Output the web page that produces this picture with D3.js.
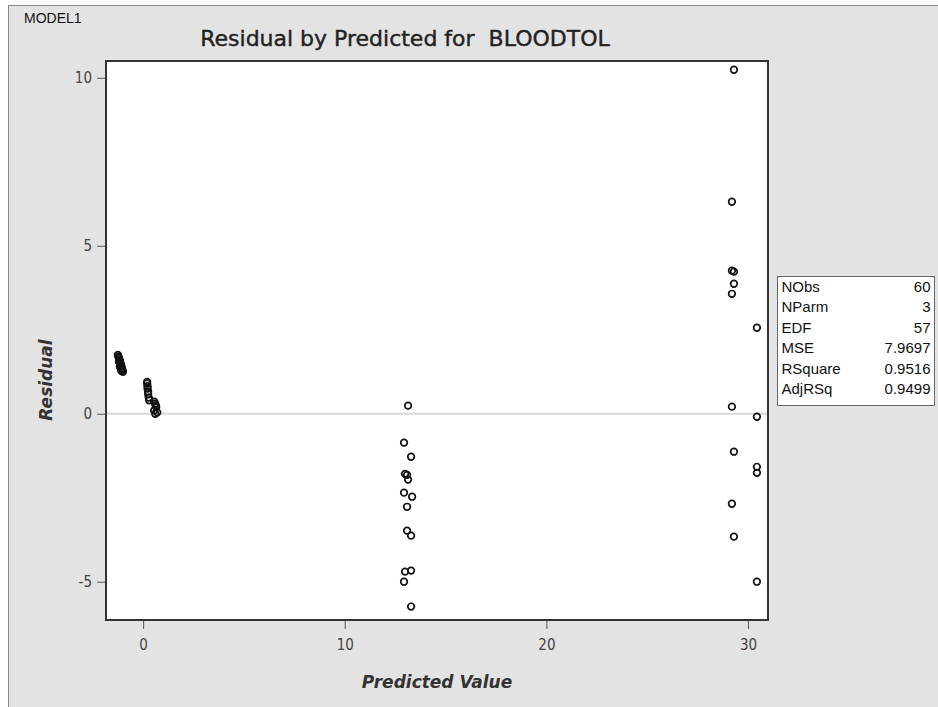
<!DOCTYPE html>
<html>
<head>
<meta charset="utf-8">
<script src="https://cdn.jsdelivr.net/npm/d3@7"></script>
<style>
  body { margin: 0; background: #fff; }
  svg { display: block; }
</style>
</head>
<body>
<div id="output"></div>
<script>
(function () {

"use strict";

// Predicted value and residual for each of the 60 observations, 4 groups of 15
var predicted = [
  -1.25, -1.22, -1.2, -1.18, -1.15, -1.2, -1.12, -1.1, -1.08, -1.15, -1.05, -1.1, -1.02, -1.08, -1.0,
  0.2, 0.2, 0.22, 0.22, 0.25, 0.25, 0.28, 0.3, 0.55, 0.6, 0.62, 0.65, 0.55, 0.7, 0.6,
  13.14, 12.94, 13.29, 12.99, 13.09, 13.14, 12.94, 13.34, 13.09, 13.09, 13.29, 12.99, 13.29, 12.94, 13.29,
  29.3, 29.2, 29.2, 29.3, 29.3, 29.2, 30.44, 29.2, 30.44, 29.3, 30.44, 30.44, 29.2, 29.3, 30.44
]
var residual = [
  1.75, 1.7, 1.66, 1.62, 1.58, 1.55, 1.5, 1.46, 1.42, 1.4, 1.36, 1.33, 1.3, 1.28, 1.25,
  0.95, 0.9, 0.82, 0.75, 0.66, 0.58, 0.48, 0.4, 0.36, 0.3, 0.25, 0.2, 0.1, 0.04, 0.0,
  0.24, -0.86, -1.28, -1.79, -1.82, -1.96, -2.35, -2.47, -2.77, -3.48, -3.63, -4.70, -4.67, -5.0, -5.74,
  10.24, 6.31, 4.26, 4.23, 3.87, 3.57, 2.56, 0.21, -0.09, -1.13, -1.58, -1.76, -2.68, -3.66, -5.0
]

var xTicks = [0, 10, 20, 30]
var yTicks = [-5, 0, 5, 10]

var statNames = [ "NObs", "NParm", "EDF", "MSE", "RSquare", "AdjRSq" ]
var statValues = [ "60", "3", "57", "7.9697", "0.9516", "0.9499" ]

var width = 938
  , height = 707
  , plot = { left: 106, top: 61, right: 768, bottom: 620 }

var svg = d3.select("#output").append("svg").attr("width", width).attr("height", height)

// background panel
svg.append("rect").attr("x", 8.5).attr("y", 5.5).attr("width", width).attr("height", height)
  .style("fill", "#e3e3e3").style("stroke", "#8a8a8a")

svg.append("text").attr("x", 24).attr("y", 23)
  .style("font-family", "Liberation Sans, Arial, sans-serif").style("font-size", "14px")
  .style("fill", "#111").text("MODEL1")

svg.append("text").attr("x", 405).attr("y", 46).attr("text-anchor", "middle")
  .style("font-family", "DejaVu Sans, sans-serif").style("font-size", "22px")
  .style("fill", "#222").style("stroke", "#222").style("stroke-width", 0.4)
  .text("Residual by Predicted for\u00a0 BLOODTOL")

var x = d3.scaleLinear().domain([-1.84, 30.99]).range([plot.left, plot.right])
var y = d3.scaleLinear().domain([-6.14, 10.5]).range([plot.bottom, plot.top])

svg.append("rect")
  .attr("x", plot.left).attr("y", plot.top)
  .attr("width", plot.right - plot.left).attr("height", plot.bottom - plot.top)
  .style("fill", "#fff")

// zero reference line
svg.append("line")
  .attr("x1", plot.left).attr("x2", plot.right)
  .attr("y1", y(0)).attr("y2", y(0))
  .style("stroke", "#d8d8d8").style("stroke-width", 2)

var pts = d3.range(predicted.length).map(function (i) { return [predicted[i], residual[i]] })

svg.append("g").selectAll("circle").data(pts).enter().append("circle")
  .attr("cx", function (d) { return x(d[0]) })
  .attr("cy", function (d) { return y(d[1]) })
  .attr("r", 3.3)
  .style("fill", "none")
  .style("stroke", "#111").style("stroke-width", 1.7)

svg.append("rect")
  .attr("x", plot.left).attr("y", plot.top)
  .attr("width", plot.right - plot.left).attr("height", plot.bottom - plot.top)
  .style("fill", "none").style("stroke", "#333").style("stroke-width", 2)

var xAxis = svg.append("g").attr("transform", "translate(0," + (plot.bottom + 1) + ")")
  .call(d3.axisBottom(x).tickValues(xTicks).tickSize(8).tickPadding(10))
var yAxis = svg.append("g").attr("transform", "translate(" + (plot.left - 1) + ",0)")
  .call(d3.axisLeft(y).tickValues(yTicks).tickSize(8).tickPadding(5).tickFormat(d3.format("d")))

;[xAxis, yAxis].forEach(function (a) {
  a.select(".domain").remove()
  a.selectAll("line").style("stroke", "#555")
  a.selectAll("text").style("font-family", "DejaVu Sans Condensed, DejaVu Sans, sans-serif")
    .style("font-size", "15px").style("fill", "#444")
})
yAxis.selectAll("text").text(function (d) { return d < 0 ? "-" + Math.abs(d) : d })

svg.append("text").attr("x", 437).attr("y", 688).attr("text-anchor", "middle")
  .style("font-family", "DejaVu Sans, sans-serif").style("font-size", "17px")
  .style("font-weight", "bold").style("font-style", "italic").style("fill", "#333")
  .text("Predicted Value")

svg.append("text").attr("transform", "translate(52,380) rotate(-90)").attr("text-anchor", "middle")
  .style("font-family", "DejaVu Sans, sans-serif").style("font-size", "17px")
  .style("font-weight", "bold").style("font-style", "italic").style("fill", "#333")
  .text("Residual")

// stats inset
var box = svg.append("g").attr("transform", "translate(777.5,276.5)")
box.append("rect").attr("width", 157).attr("height", 129)
  .style("fill", "#fff").style("stroke", "#666")

var rows = box.selectAll("g.row").data(statNames).enter().append("g")
  .attr("transform", function (d, i) { return "translate(0," + (15 + i * 20.5) + ")" })
rows.append("text").attr("x", 4).text(function (d) { return d })
rows.append("text").attr("x", 153).attr("text-anchor", "end").text(function (d, i) { return statValues[i] })
rows.selectAll("text").style("font-family", "Liberation Sans, Arial, sans-serif")
  .style("font-size", "15px").style("fill", "#111")

}())
</script>
</body>
</html>
